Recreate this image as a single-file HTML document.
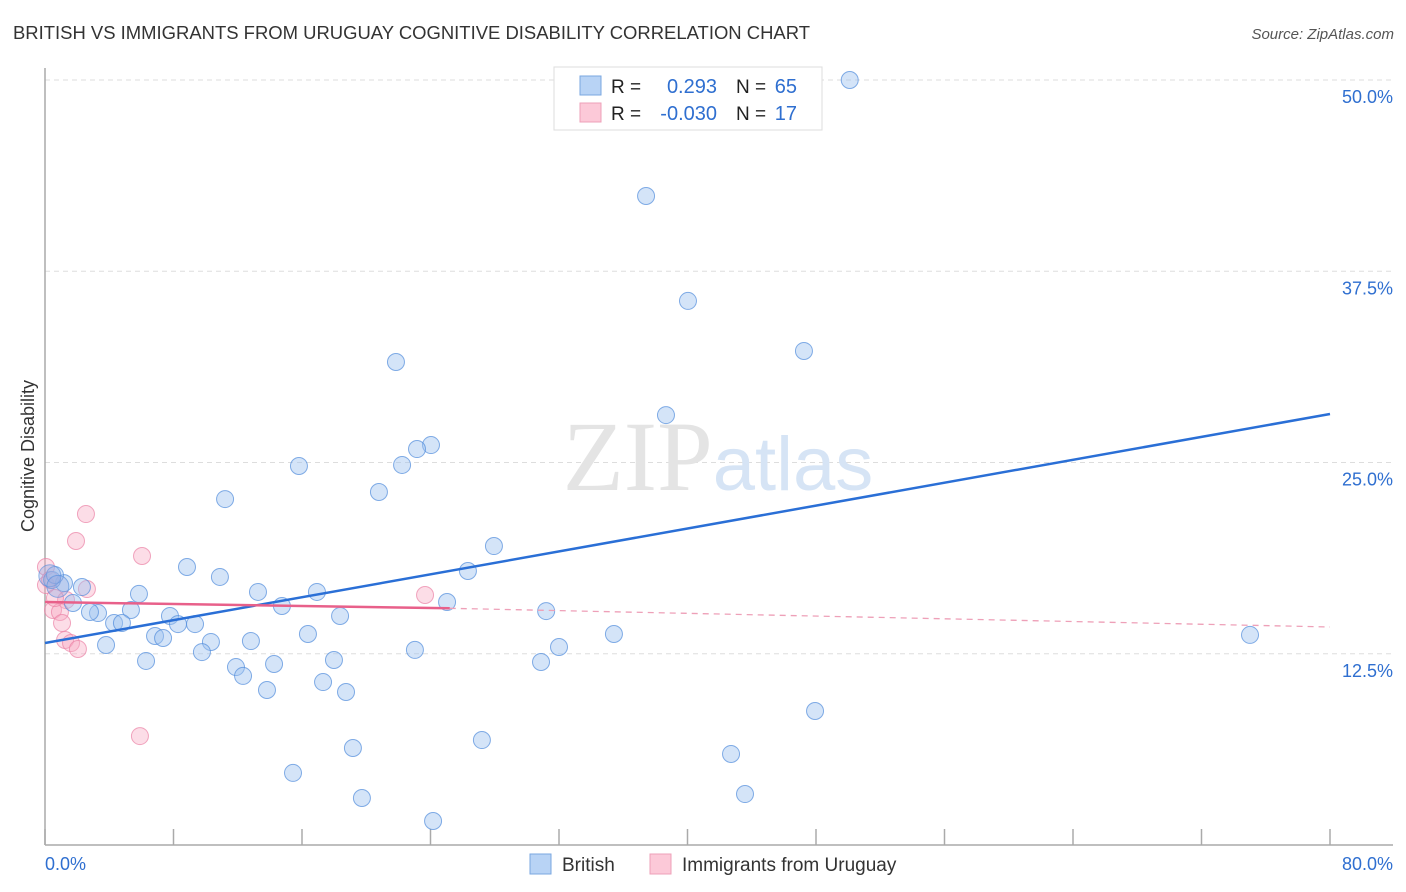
<!DOCTYPE html>
<html><head><meta charset="utf-8">
<style>
body{margin:0;background:#fff;font-family:"Liberation Sans",sans-serif;}
svg{display:block}
</style></head>
<body>
<svg width="1406" height="892" viewBox="0 0 1406 892" xmlns="http://www.w3.org/2000/svg">
<text x="13" y="39" font-size="18" fill="#333" textLength="797" lengthAdjust="spacingAndGlyphs" font-family="Liberation Sans, sans-serif">BRITISH VS IMMIGRANTS FROM URUGUAY COGNITIVE DISABILITY CORRELATION CHART</text>
<text x="1394" y="39" font-size="15" fill="#555" text-anchor="end" font-style="italic">Source: ZipAtlas.com</text>
<g id="grid"></g>
<text x="718" y="490" font-size="100" text-anchor="middle" fill="#e4e4e4" font-family="Liberation Serif, serif">ZIP<tspan fill="#d6e4f5" font-family="Liberation Sans, sans-serif" font-size="76">atlas</tspan></text>
<g id="axes"></g>
<g id="pts"></g>
<g id="trends"></g>
<text transform="translate(34,456) rotate(-90)" font-size="18" fill="#333" text-anchor="middle">Cognitive Disability</text>
<g>
<rect x="554" y="67" width="268" height="63" fill="#fff" stroke="#ddd"/>
<rect x="580" y="76" width="21" height="19" fill="#b8d3f5" stroke="#7aa7e0"/>
<rect x="580" y="103" width="21" height="19" fill="#fcc9d8" stroke="#eea0b8"/>
<text x="611" y="93" font-size="19" fill="#222">R = </text>
<text x="717" y="93" font-size="20" fill="#2f6fd0" text-anchor="end">0.293</text>
<text x="736" y="93" font-size="19" fill="#222">N = </text>
<text x="797" y="93" font-size="20" fill="#2f6fd0" text-anchor="end">65</text>
<text x="611" y="120" font-size="19" fill="#222">R = </text>
<text x="717" y="120" font-size="20" fill="#2f6fd0" text-anchor="end">-0.030</text>
<text x="736" y="120" font-size="19" fill="#222">N = </text>
<text x="797" y="120" font-size="20" fill="#2f6fd0" text-anchor="end">17</text>
</g>
<g>
<rect x="530" y="854" width="21" height="20" fill="#b8d3f5" stroke="#7aa7e0"/>
<text x="562" y="871" font-size="19" fill="#333">British</text>
<rect x="650" y="854" width="21" height="20" fill="#fcc9d8" stroke="#eea0b8"/>
<text x="682" y="871" font-size="19" fill="#333">Immigrants from Uruguay</text>
</g>
</svg>
<script>
const NS='http://www.w3.org/2000/svg';
const yTicks=[12.5,25,37.5,50];
const yTickLabels=['12.5%','25.0%','37.5%','50.0%'];
const xTicks=[0,8,16,24,32,40,48,56,64,72,80];
const xEndLabels=['0.0%','80.0%'];
const britishX=[50.1,38.3,37.42,40.03,47.25,21.85,38.66,24.03,23.16,15.81,22.23,20.79,11.21,27.95,8.84,26.33,10.89,13.26,16.93,5.85,2.30,1.18,0.44,0.62,1.74,3.30,2.80,5.35,7.78,14.75,25.03,31.2,18.37,4.30,4.79,8.28,9.34,6.85,7.35,16.37,35.42,75.02,10.33,12.82,3.80,9.77,32.0,23.03,6.29,11.89,14.26,17.99,30.88,12.33,17.31,13.82,18.74,47.94,19.17,27.2,42.71,15.44,43.58,19.73,24.16];
const britishY=[50.0,48.7,42.42,35.56,32.29,31.57,28.10,26.14,25.88,24.77,24.84,23.07,22.61,19.54,18.17,17.91,17.52,16.54,16.54,16.41,16.86,17.12,17.32,17.65,15.82,15.16,15.23,15.36,14.97,15.62,15.88,15.29,14.97,14.51,14.51,14.44,14.44,13.66,13.53,13.79,13.79,13.73,13.27,13.33,13.07,12.61,12.94,12.75,12.03,11.63,11.83,12.09,11.96,11.05,10.65,10.13,10.0,8.76,6.34,6.86,5.95,4.71,3.33,3.07,1.57];
const uruguayX=[2.55,1.93,6.04,0.06,0.31,2.61,23.66,1.31,0.5,0.93,1.06,1.25,1.62,2.05,5.91,0.06,0.62];
const uruguayY=[21.63,19.87,18.89,18.17,17.32,16.73,16.34,16.01,15.36,15.23,14.51,13.4,13.2,12.81,7.12,16.99,16.14];
const bigBritish=[[0.3,17.6],[0.8,16.9]];
const blueTrend=[[0,13.2],[80,28.17]];
const pinkTrendSolid=[[0,15.88],[25.2,15.47]];
const pinkTrendDash=[[25.2,15.47],[80,14.25]];
const X=v=>45+v*1285/80, Y=v=>845-v*15.3;
function mk(t,a,p){const e=document.createElementNS(NS,t);for(const k in a)e.setAttribute(k,a[k]);document.getElementById(p).appendChild(e);return e;}
yTicks.forEach((t,i)=>{
 const l=mk('line',{x1:45,x2:1393,y1:Y(t),y2:Y(t),stroke:'#ddd','stroke-dasharray':'5,4'},'grid');
 
 
 const tx=mk('text',{x:1393,y:Y(t)+23,'font-size':18,fill:'#2f6fd0','text-anchor':'end'},'grid');
 tx.textContent=yTickLabels[i];
 
 
});
let a=mk('line',{x1:45,x2:45,y1:68,y2:845,stroke:'#aaa','stroke-width':1.5},'axes');


a=mk('line',{x1:45,x2:1393,y1:845,y2:845,stroke:'#aaa','stroke-width':1.5},'axes');


xTicks.forEach(t=>{const l=mk('line',{x1:X(t),x2:X(t),y1:829,y2:845,stroke:'#aaa','stroke-width':1.5},'axes');
 
 });
[[0,'start',45],[1,'end',1393]].forEach(([i,anc,x])=>{const t=mk('text',{x:x,y:870,'font-size':18,fill:'#2f6fd0','text-anchor':anc},'axes');t.textContent=xEndLabels[i];
 
 });
uruguayX.forEach((v,i)=>{const c=mk('circle',{cx:X(v),cy:Y(uruguayY[i]),r:8.5,fill:'rgba(248,170,195,0.4)',stroke:'rgba(235,130,165,0.7)','stroke-width':1},'pts');
 
 });
britishX.forEach((v,i)=>{const c=mk('circle',{cx:X(v),cy:Y(britishY[i]),r:8.5,fill:'rgba(160,195,240,0.45)',stroke:'rgba(80,140,220,0.7)','stroke-width':1},'pts');
 
 });
bigBritish.forEach(p=>{const c=mk('circle',{cx:X(p[0]),cy:Y(p[1]),r:11,fill:'rgba(150,170,225,0.4)',stroke:'rgba(80,140,220,0.6)'},'pts');
 
 });
let t=mk('line',{x1:X(blueTrend[0][0]),y1:Y(blueTrend[0][1]),x2:X(blueTrend[1][0]),y2:Y(blueTrend[1][1]),stroke:'#2a6fd6','stroke-width':2.5},'trends');


t=mk('line',{x1:X(pinkTrendSolid[0][0]),y1:Y(pinkTrendSolid[0][1]),x2:X(pinkTrendSolid[1][0]),y2:Y(pinkTrendSolid[1][1]),stroke:'#e8608a','stroke-width':2.5},'trends');


t=mk('line',{x1:X(pinkTrendDash[0][0]),y1:Y(pinkTrendDash[0][1]),x2:X(pinkTrendDash[1][0]),y2:Y(pinkTrendDash[1][1]),stroke:'#eea0b8','stroke-width':1.3,'stroke-dasharray':'6,5'},'trends');


</script>
</body></html>
